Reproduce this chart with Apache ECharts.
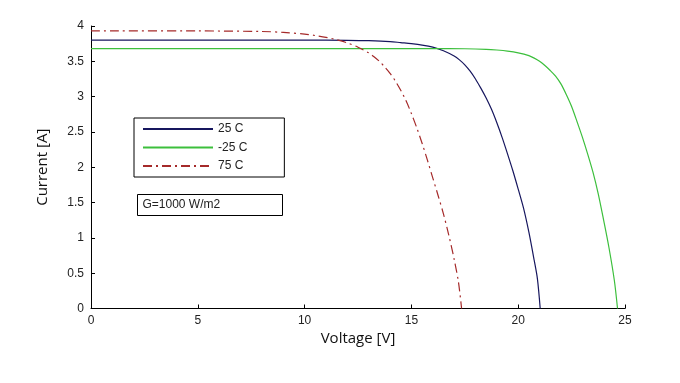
<!DOCTYPE html>
<html>
<head>
<meta charset="utf-8">
<script src="https://cdn.jsdelivr.net/npm/echarts@6/dist/echarts.min.js"></script>
<style>html,body{margin:0;padding:0;background:#fff;}#c{width:680px;height:383px;}</style>
</head>
<body>
<div id="c"></div>
<script>
// Data (Voltage [V], Current [A])
var seriesNames = ['25 C', '-25 C', '75 C'];
var curve25 = [[0,3.80],[5,3.80],[10,3.80],[12,3.797],[13,3.792],[14,3.78],[14.5,3.765],[15,3.75],[15.5,3.73],[16,3.70],[16.5,3.65],[17,3.575],[17.25,3.52],[17.5,3.45],[17.75,3.36],[18,3.25],[18.25,3.12],[18.5,2.98],[18.75,2.82],[19,2.63],[19.25,2.42],[19.5,2.19],[19.75,1.95],[20,1.69],[20.25,1.42],[20.5,1.08],[20.75,0.68],[20.9,0.42],[21.03,0]];
var curveM25 = [[0,3.68],[10,3.68],[16,3.68],[17.5,3.678],[18.5,3.67],[19,3.66],[19.5,3.645],[20,3.62],[20.5,3.58],[20.75,3.545],[21,3.50],[21.25,3.44],[21.5,3.37],[21.75,3.29],[22,3.18],[22.25,3.03],[22.5,2.86],[22.75,2.65],[23,2.43],[23.25,2.19],[23.5,1.93],[23.75,1.62],[24,1.25],[24.25,0.86],[24.5,0.40],[24.65,0]];
var curve75 = [[0,3.93],[5,3.93],[8,3.922],[9,3.91],[10,3.885],[10.5,3.865],[11,3.84],[11.5,3.805],[12,3.76],[12.5,3.70],[13,3.62],[13.25,3.565],[13.5,3.50],[13.75,3.42],[14,3.33],[14.25,3.22],[14.5,3.09],[14.75,2.94],[15,2.76],[15.25,2.56],[15.5,2.34],[15.75,2.10],[16,1.85],[16.25,1.60],[16.5,1.34],[16.75,1.04],[17,0.70],[17.2,0.38],[17.35,0]];
var xTicks = [0,5,10,15,20,25];
var yTicks = [0,0.5,1,1.5,2,2.5,3,3.5,4];
var annotation = 'G=1000 W/m2';

var chart = echarts.init(document.getElementById('c'), null, {renderer:'canvas'});
var tickFont = {fontFamily:'Liberation Sans, Arial, sans-serif', fontSize:12, color:'#222'};
chart.setOption({
  animation:false,
  backgroundColor:'#fff',
  grid:{left:91, right:55, top:26, bottom:74.5, containLabel:false},
  xAxis:{
    type:'value', min:xTicks[0], max:xTicks[xTicks.length-1], interval:5,
    name:'Voltage [V]', nameLocation:'middle', nameGap:17,
    nameTextStyle:{fontFamily:'Open Sans, sans-serif', fontSize:15, color:'#111', verticalAlign:'top'},
    axisLine:{lineStyle:{color:'#000', width:1}},
    axisTick:{inside:true, length:4, lineStyle:{color:'#000'}},
    axisLabel:Object.assign({margin:6}, tickFont),
    splitLine:{show:false}
  },
  yAxis:{
    type:'value', min:yTicks[0], max:yTicks[yTicks.length-1], interval:0.5,
    name:'Current [A]', nameLocation:'middle', nameGap:41, nameRotate:90,
    nameTextStyle:{fontFamily:'Open Sans, sans-serif', fontSize:15, color:'#111'},
    axisLine:{show:true, lineStyle:{color:'#000', width:1}},
    axisTick:{show:true, inside:true, length:4, lineStyle:{color:'#000'}},
    axisLabel:Object.assign({margin:7}, tickFont),
    splitLine:{show:false}
  },
  legend:{
    orient:'vertical', left:134, top:118,
    data:seriesNames,
    itemWidth:70, itemHeight:14, itemGap:6.5,
    padding:[5,37,5,8],
    itemStyle:{opacity:0},
    borderColor:'#000', borderWidth:1, backgroundColor:'#fff',
    textStyle:{fontFamily:'Liberation Sans, Arial, sans-serif', fontSize:12, color:'#222'}
  },
  graphic:[{
    type:'group', left:137, top:194,
    children:[
      {type:'rect', shape:{x:0,y:0,width:145,height:21}, style:{fill:'#fff', stroke:'#000', lineWidth:1}},
      {type:'text', x:5, y:10.5, style:{text:annotation, fontFamily:'Liberation Sans, Arial, sans-serif', fontSize:12, fill:'#222', verticalAlign:'middle'}}
    ]
  }],
  series:[
    {name:seriesNames[0], type:'line', data:curve25, smooth:0.3, symbol:'none', lineStyle:{color:'#16165e', width:1.2}, itemStyle:{color:'#16165e'}},
    {name:seriesNames[1], type:'line', data:curveM25, smooth:0.3, symbol:'none', lineStyle:{color:'#3cbf3c', width:1.2}, itemStyle:{color:'#3cbf3c'}},
    {name:seriesNames[2], type:'line', data:curve75, smooth:0.3, symbol:'none', lineStyle:{color:'#a52a2a', width:1.2, type:[9,4,2,4]}, itemStyle:{color:'#a52a2a'}}
  ]
});
</script>
</body>
</html>
